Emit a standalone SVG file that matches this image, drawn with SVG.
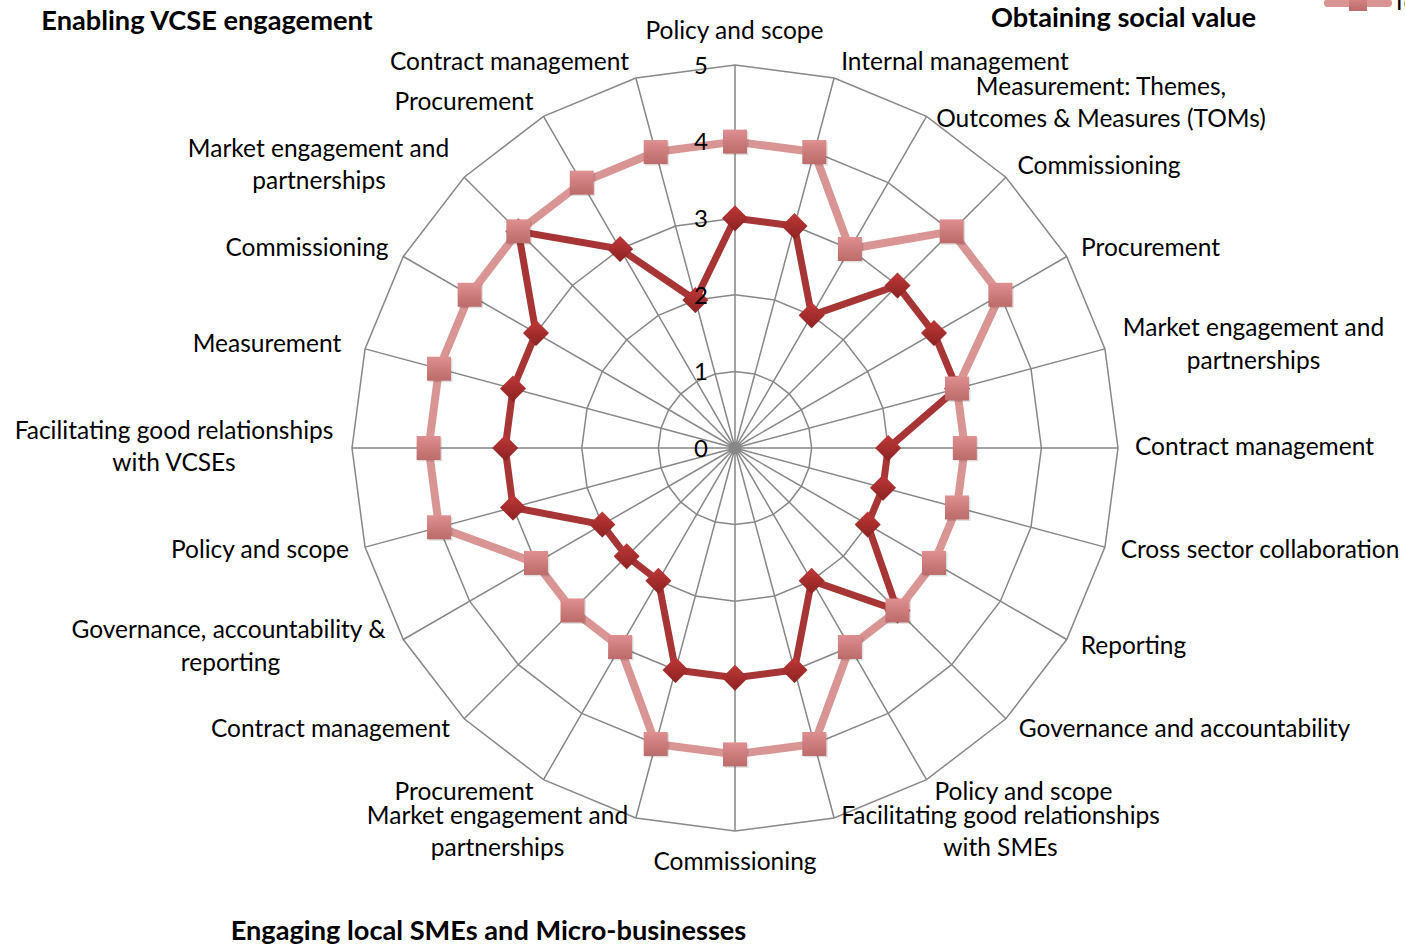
<svg xmlns="http://www.w3.org/2000/svg" xmlns:xlink="http://www.w3.org/1999/xlink" width="1405" height="948" viewBox="0 0 1405 948">
<style>
.lbl{font-family:Lato,"Liberation Sans",sans-serif;font-size:24.5px;fill:#000;text-anchor:middle}
.ttl{font-family:Lato,"Liberation Sans",sans-serif;font-size:27.2px;font-weight:bold;fill:#000;text-anchor:middle}
.num{font-family:Lato,"Liberation Sans",sans-serif;font-size:24px;fill:#000;text-anchor:end}
.grid{fill:none;stroke:#878787}
.spoke{stroke:#878787;stroke-width:1.5;fill:none}
.s1{fill:none;stroke:#D99594;stroke-width:8;stroke-linejoin:round}
.s2{fill:none;stroke:#A73535;stroke-width:7;stroke-linejoin:round}
</style>
<defs>
<linearGradient id="gSq" x1="0" y1="0" x2="0" y2="1">
<stop offset="0" stop-color="#DE8F8F"/><stop offset="1" stop-color="#BC6A6A"/>
</linearGradient>
<linearGradient id="gDm" x1="0" y1="0" x2="0" y2="1">
<stop offset="0" stop-color="#C03838"/><stop offset="1" stop-color="#8C2222"/>
</linearGradient>
<marker id="mSq" markerUnits="userSpaceOnUse" markerWidth="30" markerHeight="30" refX="15" refY="15" orient="0" overflow="visible">
<rect x="4.5" y="4.5" width="24" height="24" fill="#000" opacity="0.12"/>
<rect x="3" y="3" width="24" height="24" fill="url(#gSq)"/>
</marker>
<marker id="mDm" markerUnits="userSpaceOnUse" markerWidth="32" markerHeight="32" refX="16" refY="16" orient="0" overflow="visible">
<polygon points="16,3.5 29,16.5 16,29.5 3,16.5" fill="#000" opacity="0.12"/>
<polygon points="16,2 29,15 16,28 3,15" fill="url(#gDm)" transform="translate(0 1)"/>
</marker>
<polygon id="ring" points="0,-383 99.13,-369.95 191.5,-331.69 270.82,-270.82 331.69,-191.5 369.95,-99.13 383,0 369.95,99.13 331.69,191.5 270.82,270.82 191.5,331.69 99.13,369.95 0,383 -99.13,369.95 -191.5,331.69 -270.82,270.82 -331.69,191.5 -369.95,99.13 -383,0 -369.95,-99.13 -331.69,-191.5 -270.82,-270.82 -191.5,-331.69 -99.13,-369.95"/>
</defs>
<rect width="1405" height="948" fill="#fff"/>
<g id="grid">
<use xlink:href="#ring" href="#ring" class="grid" transform="translate(735 448) scale(0.2)" stroke-width="7.5"/>
<use xlink:href="#ring" href="#ring" class="grid" transform="translate(735 448) scale(0.4)" stroke-width="3.75"/>
<use xlink:href="#ring" href="#ring" class="grid" transform="translate(735 448) scale(0.6)" stroke-width="2.5"/>
<use xlink:href="#ring" href="#ring" class="grid" transform="translate(735 448) scale(0.8)" stroke-width="1.875"/>
<use xlink:href="#ring" href="#ring" class="grid" transform="translate(735 448)" stroke-width="1.5"/>
<path class="spoke" d="M735,448L735,65M735,448L834.13,78.05M735,448L926.5,116.31M735,448L1005.82,177.18M735,448L1066.69,256.5M735,448L1104.95,348.87M735,448L1118,448M735,448L1104.95,547.13M735,448L1066.69,639.5M735,448L1005.82,718.82M735,448L926.5,779.69M735,448L834.13,817.95M735,448L735,831M735,448L635.87,817.95M735,448L543.5,779.69M735,448L464.18,718.82M735,448L403.31,639.5M735,448L365.05,547.13M735,448L352,448M735,448L365.05,348.87M735,448L403.31,256.5M735,448L464.18,177.18M735,448L543.5,116.31M735,448L635.87,78.05"/>
</g>
<g id="connectors">
<polygon id="series2" class="s2" marker-start="url(#mDm)" marker-mid="url(#mDm)" points="735,218.2 794.48,226.03 811.6,315.33 897.49,285.51 934.01,333.1 956.97,388.52 888.2,448 882.98,487.65 867.67,524.6 897.49,610.49 811.6,580.67 794.48,669.97 735,677.8 675.52,669.97 658.4,580.67 626.67,556.33 602.33,524.6 513.03,507.48 505.2,448 513.03,388.52 535.99,333.1 518.34,231.34 620.1,248.99 695.35,300.02"/>
<polygon id="series1" class="s1" marker-start="url(#mSq)" marker-mid="url(#mSq)" points="735,141.6 814.3,152.04 849.9,248.99 951.66,231.34 1000.35,294.8 956.97,388.52 964.8,448 956.97,507.48 934.01,562.9 897.49,610.49 849.9,647.01 814.3,743.96 735,754.4 655.7,743.96 620.1,647.01 572.51,610.49 535.99,562.9 439.04,527.3 428.6,448 439.04,368.7 469.65,294.8 518.34,231.34 581.8,182.65 655.7,152.04"/>
</g>
<g id="scale">
<text class="num" x="708" y="74">5</text>
<text class="num" x="708" y="150">4</text>
<text class="num" x="708" y="227">3</text>
<text class="num" x="708" y="304">2</text>
<text class="num" x="708" y="380">1</text>
<text class="num" x="708" y="457">0</text>
</g>
<g id="legend">
<line x1="1328" y1="3" x2="1388" y2="3" stroke="#D99594" stroke-width="8" stroke-linecap="round"/>
<rect x="1349" y="-6" width="18" height="17" fill="url(#gSq)"/>
<text x="1392" y="10" style="font-family:Lato,'Liberation Sans',sans-serif;font-size:24.5px">To</text>
</g>
<g id="titles">
<text class="ttl" x="207" y="30">Enabling VCSE engagement</text>
<text class="ttl" x="1123.5" y="27">Obtaining social value</text>
<text class="ttl" x="488.5" y="940">Engaging local SMEs and Micro-businesses</text>
</g>
<g id="labels">
<g id="n0"><text class="lbl" x="734.5" y="39">Policy and scope</text></g>
<g id="n1"><text class="lbl" x="955" y="70">Internal management</text></g>
<g id="n2"><text class="lbl" x="1101" y="95">Measurement: Themes,</text><text class="lbl" x="1101" y="127">Outcomes &amp; Measures (TOMs)</text></g>
<g id="n3"><text class="lbl" x="1099" y="174">Commissioning</text></g>
<g id="n4"><text class="lbl" x="1150.5" y="256">Procurement</text></g>
<g id="n5"><text class="lbl" x="1253.5" y="336">Market engagement and</text><text class="lbl" x="1253.5" y="369">partnerships</text></g>
<g id="n6"><text class="lbl" x="1254.5" y="455">Contract management</text></g>
<g id="n7"><text class="lbl" x="1260" y="558">Cross sector collaboration</text></g>
<g id="n8"><text class="lbl" x="1133.5" y="654">Reporting</text></g>
<g id="n9"><text class="lbl" x="1184.5" y="737">Governance and accountability</text></g>
<g id="n10"><text class="lbl" x="1023.5" y="800">Policy and scope</text></g>
<g id="n11"><text class="lbl" x="1000.5" y="824">Facilitating good relationships</text><text class="lbl" x="1000.5" y="856">with SMEs</text></g>
<g id="n12"><text class="lbl" x="735" y="870">Commissioning</text></g>
<g id="n13"><text class="lbl" x="497.5" y="824">Market engagement and</text><text class="lbl" x="497.5" y="856">partnerships</text></g>
<g id="n14"><text class="lbl" x="464" y="800">Procurement</text></g>
<g id="n15"><text class="lbl" x="330.5" y="737">Contract management</text></g>
<g id="n16"><text class="lbl" x="228.5" y="638">Governance, accountability &amp;</text><text class="lbl" x="230.5" y="671">reporting</text></g>
<g id="n17"><text class="lbl" x="260" y="558">Policy and scope</text></g>
<g id="n18"><text class="lbl" x="174" y="439">Facilitating good relationships</text><text class="lbl" x="174" y="471">with VCSEs</text></g>
<g id="n19"><text class="lbl" x="267" y="352">Measurement</text></g>
<g id="n20"><text class="lbl" x="307" y="256">Commissioning</text></g>
<g id="n21"><text class="lbl" x="318.5" y="157">Market engagement and</text><text class="lbl" x="319" y="189">partnerships</text></g>
<g id="n22"><text class="lbl" x="464" y="110">Procurement</text></g>
<g id="n23"><text class="lbl" x="509.5" y="70">Contract management</text></g>
</g>
</svg>
